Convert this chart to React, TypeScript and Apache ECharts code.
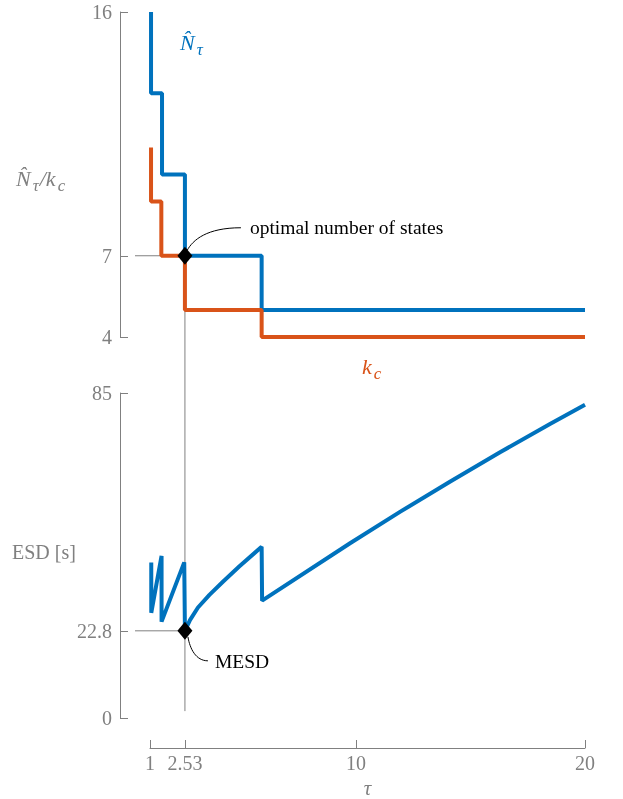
import React, { useEffect, useRef } from "react";
import * as echarts from "echarts";

// ---- data ----
const tauN = [1.05, 1.05, 1.53, 1.53, 2.53, 2.53, 5.88, 5.88, 20];
const nHat = [16, 13, 13, 10, 10, 7, 7, 5, 5];
const tauK = [1.05, 1.05, 1.5, 1.5, 2.53, 2.53, 5.88, 5.88, 20];
const kC = [11, 9, 9, 7, 7, 5, 5, 4, 4];
const tauE = [1.06, 1.06, 1.51, 1.51, 2.5, 2.53, 2.75, 3.1, 3.6, 4.2, 4.9, 5.88, 5.9, 9.74, 11.92, 14.1, 16.29, 18.47, 20];
const esd = [40.7, 27.5, 42.4, 25.2, 40.7, 22.8, 25.6, 28.9, 32.2, 35.7, 39.6, 44.8, 30.7, 45.7, 53.9, 61.8, 69.5, 76.9, 81.9];
const topTicks = [4, 7, 16];
const bottomTicks = [0, 22.8, 85];
const xTicks = [1, 2.53, 10, 20];
const optTau = 2.53;
const optN = 7;
const mesd = 22.8;
const xMin = 0.35;
const xMax = 20;
const vlineBottom = 1.8;

const BLUE = "#0072BD";
const ORANGE = "#D95319";
const GRAY = "#808080";
const FONT = "'Liberation Serif', 'Times New Roman', serif";

export default function App() {
  const ref = useRef<HTMLDivElement>(null);
  useEffect(() => {
    if (!ref.current) return;
    const chart = echarts.init(ref.current, null, { renderer: "svg" });
    const labelStyle = { color: GRAY, fontSize: 20, fontFamily: FONT };
    const yAxisCommon = (gi: number, min: number, max: number, ticks: number[]) => ({
      gridIndex: gi,
      type: "value",
      min,
      max,
      offset: 15,
      axisLine: { show: true, lineStyle: { color: GRAY, width: 1 } },
      axisTick: { show: true, inside: true, length: 8, customValues: ticks, lineStyle: { color: GRAY, width: 1 } },
      axisLabel: { show: true, customValues: ticks, margin: 8, ...labelStyle, formatter: (v: number) => String(v) },
      splitLine: { show: false },
    });
    chart.setOption({
      animation: false,
      grid: [
        { left: 135, top: 12, width: 450, height: 325 },
        { left: 135, top: 393, width: 450, height: 325 },
        { left: 150, top: 738, width: 435, height: 10 },
      ],
      xAxis: [
        { gridIndex: 0, type: "value", min: xMin, max: xMax, show: false },
        { gridIndex: 1, type: "value", min: xMin, max: xMax, show: false },
        {
          gridIndex: 2,
          type: "value",
          min: 1,
          max: 20,
          position: "bottom",
          axisLine: { show: true, lineStyle: { color: GRAY, width: 1 } },
          axisTick: { show: true, inside: true, length: 8, customValues: xTicks, lineStyle: { color: GRAY, width: 1 } },
          axisLabel: { show: true, customValues: xTicks, margin: 5, ...labelStyle, formatter: (v: number) => String(v) },
          splitLine: { show: false },
          name: "τ",
          nameLocation: "middle",
          nameGap: 29,
          nameTextStyle: { color: GRAY, fontSize: 21, fontFamily: FONT, fontStyle: "italic" },
        },
      ],
      yAxis: [
        yAxisCommon(0, 4, 16, topTicks),
        yAxisCommon(1, 0, 85, bottomTicks),
        { gridIndex: 2, type: "value", min: 0, max: 1, show: false },
      ],
      series: [
        {
          type: "line",
          xAxisIndex: 0,
          yAxisIndex: 0,
          data: tauN.map((t, i) => [t, nHat[i]]),
          symbol: "none",
          lineStyle: { color: BLUE, width: 4 },
          z: 3,
        },
        {
          type: "line",
          xAxisIndex: 0,
          yAxisIndex: 0,
          data: tauK.map((t, i) => [t, kC[i]]),
          symbol: "none",
          lineStyle: { color: ORANGE, width: 4 },
          z: 4,
        },
        {
          type: "line",
          xAxisIndex: 1,
          yAxisIndex: 1,
          data: tauE.map((t, i) => [t, esd[i]]),
          symbol: "none",
          lineStyle: { color: BLUE, width: 4 },
          z: 3,
        },
        {
          type: "scatter",
          xAxisIndex: 0,
          yAxisIndex: 0,
          data: [[optTau, optN]],
          symbol: "diamond",
          symbolSize: [15, 18],
          itemStyle: { color: "#000", opacity: 1 },
          z: 6,
        },
        {
          type: "scatter",
          xAxisIndex: 1,
          yAxisIndex: 1,
          data: [[optTau, mesd]],
          symbol: "diamond",
          symbolSize: [15, 18],
          itemStyle: { color: "#000", opacity: 1 },
          z: 6,
        },
      ],
    });

    const p7 = chart.convertToPixel({ gridIndex: 0 }, [optTau, optN]) as number[];
    const pL7 = chart.convertToPixel({ gridIndex: 0 }, [xMin, optN]) as number[];
    const pM = chart.convertToPixel({ gridIndex: 1 }, [optTau, mesd]) as number[];
    const pLM = chart.convertToPixel({ gridIndex: 1 }, [xMin, mesd]) as number[];
    const pB = chart.convertToPixel({ gridIndex: 1 }, [optTau, vlineBottom]) as number[];

    const refLine = (x1: number, y1: number, x2: number, y2: number) => ({
      type: "line",
      silent: true,
      shape: { x1, y1, x2, y2 },
      style: { stroke: GRAY, lineWidth: 1 },
      z: 0,
    });
    const txt = (x: number, y: number, rich: any, text: string, color: string, size = 19.5) => ({
      type: "text",
      x,
      y,
      silent: true,
      style: { text, fill: color, fontSize: size, fontFamily: FONT, align: "left", verticalAlign: "middle", rich },
    });
    const mathRich = (color: string) => ({
      m: { fontSize: 22, fontFamily: FONT, fontStyle: "italic", color, lineHeight: 22, verticalAlign: "top", padding: [0, 1, 0, 0] },
      s: { fontSize: 17, fontFamily: FONT, fontStyle: "italic", color, lineHeight: 17, padding: [10, 1, 0, 1], verticalAlign: "top" },
    });

    chart.setOption({
      graphic: [
        refLine(pL7[0], pL7[1], p7[0], p7[1]),
        refLine(pLM[0], pLM[1], pM[0], pM[1]),
        refLine(p7[0], p7[1], pB[0], pB[1]),
        {
          type: "bezierCurve",
          silent: true,
          shape: {
            x1: p7[0] + 56, y1: p7[1] - 28,
            cpx1: p7[0] + 22, cpy1: p7[1] - 28,
            cpx2: p7[0] + 8, cpy2: p7[1] - 16,
            x2: p7[0] + 2, y2: p7[1] - 5,
          },
          style: { stroke: "#000", lineWidth: 1, fill: null },
        },
        {
          type: "bezierCurve",
          silent: true,
          shape: {
            x1: pM[0] + 3, y1: pM[1] + 6,
            cpx1: pM[0] + 5, cpy1: pM[1] + 18,
            cpx2: pM[0] + 11, cpy2: pM[1] + 30,
            x2: pM[0] + 23, y2: pM[1] + 30,
          },
          style: { stroke: "#000", lineWidth: 1, fill: null },
        },
        txt(p7[0] + 65, p7[1] - 28, undefined, "optimal number of states", "#000"),
        txt(pM[0] + 30, pM[1] + 31, undefined, "MESD", "#000"),
        txt(180, 42, mathRich(BLUE), "{m|N\u0302}{s|τ}", BLUE),
        txt(362, 366, mathRich(ORANGE), "{m|k}{s|c}", ORANGE),
        txt(16, 178, mathRich(GRAY), "{m|N\u0302}{s|τ}{m|/k}{s|c}", GRAY),
        txt(12, 552, undefined, "ESD [s]", GRAY, 20),
      ],
    });

    return () => chart.dispose();
  }, []);
  return <div ref={ref} style={{ position: "fixed", left: 0, top: 0, width: 623, height: 799 }} />;
}
